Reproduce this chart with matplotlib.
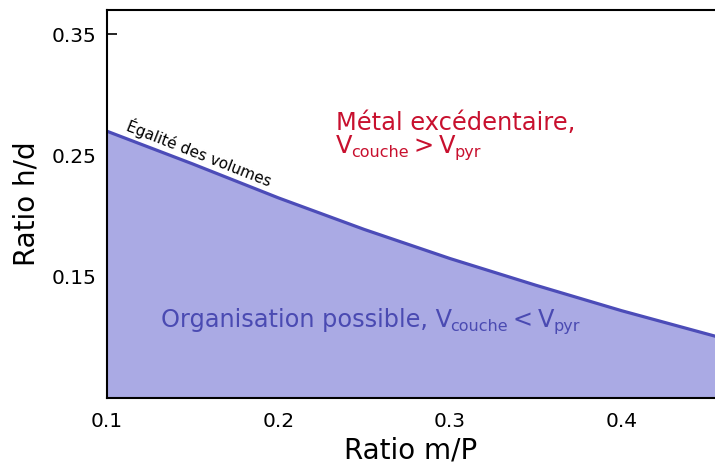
import matplotlib
matplotlib.use('Agg')
import matplotlib.pyplot as plt
import matplotlib.transforms as mtransforms
import numpy as np

# courbe d'égalité des volumes
ratio_mP = [0.100, 0.150, 0.200, 0.250, 0.300, 0.350, 0.400, 0.4545]
ratio_hd = [0.270, 0.243, 0.215, 0.189, 0.165, 0.143, 0.122, 0.101]
xticks = [0.1, 0.2, 0.3, 0.4]
yticks = [0.15, 0.25, 0.35]

plt.rcParams['font.family'] = ['DejaVu Sans']

fig = plt.figure(figsize=(7.15, 4.67), dpi=100)
ax = fig.add_axes([0.1497, 0.1478, 0.8503, 0.8308])
renderer = fig.canvas.get_renderer()


def rich_text(x, y, parts, color):
    # parts: (texte, taille, decalage vertical px, espace avant px)
    off = 0
    for s, size, dy, gap in parts:
        off += gap
        tr = mtransforms.offset_copy(ax.transData, fig=fig, x=off, y=dy, units='dots')
        t = ax.text(x, y, s, fontsize=size, color=color, transform=tr,
                    ha='left', va='baseline', zorder=5)
        off += t.get_window_extent(renderer).width


ax.fill_between(ratio_mP, 0, ratio_hd, color='#aaaae4', linewidth=0, zorder=1)
ax.plot(ratio_mP, ratio_hd, color='#4c4cb8', linewidth=2.3, zorder=2)

ax.set_xlim(0.1, 0.4545)
ax.set_ylim(0.05, 0.37)
ax.set_axisbelow(True)
ax.set_xticks(xticks)
ax.set_yticks(yticks)
ax.set_xticklabels(['0.1', '0.2', '0.3', '0.4'])
ax.set_yticklabels(['0.15', '0.25', '0.35'])
ax.tick_params(direction='in', length=7, width=1.2, labelsize=14.5, pad=10, color='black')
ax.tick_params(axis='y', pad=7.5)
ax.spines['right'].set_visible(False)
for s in ['left', 'bottom', 'top']:
    ax.spines[s].set_linewidth(1.5)

ax.set_xlabel('Ratio m/P', fontsize=20, labelpad=4)
ax.set_ylabel('Ratio h/d', fontsize=20, labelpad=8)

ax.text(0.1105, 0.2712, 'Égalité des volumes', fontsize=11, rotation=-21.5,
        rotation_mode='anchor', ha='left', va='baseline', color='black')

red = '#c8102e'
ax.text(0.2335, 0.2710, 'Métal excédentaire,', fontsize=17.4, color=red,
        ha='left', va='baseline')
rich_text(0.2335, 0.2521, [('V', 17.4, 0, 0), ('couche', 11.5, -4, -1),
                           ('>', 17.4, 0, 4), ('V', 17.4, 0, 6),
                           ('pyr', 11.5, -4, -1)], red)

blue = '#4a4ab2'
rich_text(0.1312, 0.1086, [('Organisation possible, V', 17.3, 0, 0),
                           ('couche', 11.5, -4, -1), ('<', 17.3, 0, 4),
                           ('V', 17.3, 0, 6), ('pyr', 11.5, -4, -1)], blue)

fig.savefig('out.png', dpi=100)
